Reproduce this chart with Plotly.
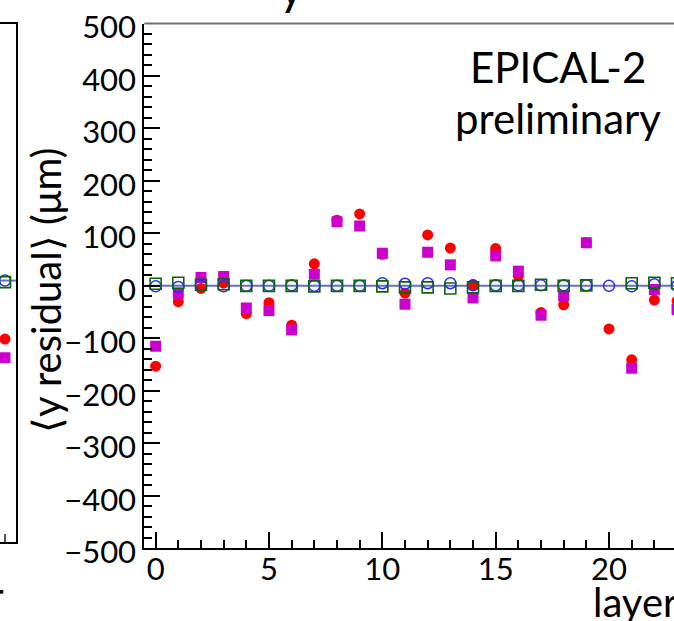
import plotly.graph_objects as go

W, H = 674, 621

# ---------------- data ----------------
layers = list(range(24))

# filled red circles
red_vals = [-153, -30, -5, 5, -53, -32, -75, 42, 125, 137, 60, -14,
            97, 72, 2, 71, 19, -51, -36, 82, -82, -141, -27, -29]
# filled magenta squares
mag_vals = [-115, -14, 16, 18, -42, -47, -84, 22, 122, 114, 62, -35,
            64, 40, -23, 57, 28, -56, -19, 82, None, -157, -7, -45]
# open blue circles
blue_vals = [-1, -2, 0, -1, 0, 0, 1, 0, 0, 0, 5, 4,
             5, 5, 1, 1, 1, 1, 1, 1, 0, -1, 3, 0]
# open green squares
green_vals = [4, 6, 2, 3, 0, 0, 0, -1, 0, 0, -1, -3,
              -3, -5, -3, 0, 0, 2, 0, 1, None, 5, 6, 5]

# neighbouring (left) panel, only its last layer is visible
left_layers = [23]
left_red = [-113]
left_mag = [-149]
left_blue = [0]
left_green = [-3]

y_ticks = [-500, -400, -300, -200, -100, 0, 100, 200, 300, 400, 500]
x_ticks = [0, 5, 10, 15, 20]

FONT = "Lato"

fig = go.Figure()

def add_series(xa, ya, xs, r, m, b, g):
    fig.add_trace(go.Scatter(x=xs, y=r, mode="markers", xaxis=xa, yaxis=ya,
                             marker=dict(symbol="circle", size=11, color="#ff0000",
                                         line=dict(width=0)), showlegend=False))
    fig.add_trace(go.Scatter(x=xs, y=m, mode="markers", xaxis=xa, yaxis=ya,
                             marker=dict(symbol="square", size=11, color="#cc00cc",
                                         line=dict(width=0)), showlegend=False))
    fig.add_trace(go.Scatter(x=xs, y=b, mode="markers", xaxis=xa, yaxis=ya,
                             marker=dict(symbol="circle-open", size=11, color="#2a2aff",
                                         line=dict(width=1.5)), showlegend=False))
    fig.add_trace(go.Scatter(x=xs, y=g, mode="markers", xaxis=xa, yaxis=ya,
                             marker=dict(symbol="square-open", size=11, color="#0b650b",
                                         line=dict(width=1.6)), showlegend=False))

add_series("x", "y", layers, red_vals, mag_vals, blue_vals, green_vals)
add_series("x2", "y2", left_layers, left_red, left_mag, left_blue, left_green)

x0_px = 144.3
spacing = 22.67
x_right = -0.5 + (W - x0_px) / spacing

common_tick = dict(ticks="inside", ticklen=16, tickwidth=1.5, tickcolor="black",
                   showgrid=False, zeroline=False, showline=True,
                   linecolor="black", linewidth=2, automargin=False)

fig.update_layout(
    width=W, height=H,
    margin=dict(l=0, r=0, t=0, b=0, pad=0, autoexpand=False),
    paper_bgcolor="white", plot_bgcolor="white",
    font=dict(family=FONT, color="black"),
    xaxis=dict(domain=[x0_px / W, 1], range=[-0.5, x_right], anchor="y",
               tickmode="array", tickvals=x_ticks, ticklabelstandoff=-7,
               minor=dict(dtick=1, tick0=0, ticks="inside", ticklen=8,
                          tickwidth=1.5, tickcolor="black"),
               tickfont=dict(family=FONT, size=31, color="black"),
               **common_tick),
    yaxis=dict(domain=[1 - 548.2 / H, 1 - 23.5 / H], range=[-500, 500], anchor="x",
               tickmode="array", tickvals=y_ticks, ticklabelshift=4,
               minor=dict(dtick=20, tick0=0, ticks="inside", ticklen=8,
                          tickwidth=1.5, tickcolor="black"),
               tickfont=dict(family=FONT, size=31, color="black"),
               **common_tick),
    xaxis2=dict(domain=[0, 16 / W], range=[23.5 - 16 / 22.0, 23.5], anchor="y2",
                showticklabels=False, ticks="", showgrid=False, zeroline=False,
                showline=True, linecolor="black", linewidth=2, mirror=True,
                tickmode="array", tickvals=[], automargin=False,
                minor=dict(dtick=1, tick0=0, ticks="inside", ticklen=8,
                           tickwidth=1.5, tickcolor="#555555")),
    yaxis2=dict(domain=[1 - 541.7 / H, 1 - 23.6 / H], range=[-504, 496], anchor="x2",
                side="right", showticklabels=False, ticks="", showgrid=False,
                zeroline=False, showline=True, linecolor="black", linewidth=1.5,
                automargin=False),
)

# top frame line and zero reference lines
fig.add_shape(type="line", xref="x domain", yref="y domain", x0=0, x1=1, y0=1, y1=1,
              line=dict(color="#707070", width=2))
fig.add_shape(type="line", xref="x domain", yref="y", x0=0, x1=1, y0=0, y1=0,
              line=dict(color="#6a6ad8", width=2), layer="below")
fig.add_shape(type="line", xref="x2 domain", yref="y2", x0=0, x1=1, y0=0, y1=0,
              line=dict(color="#6a6ad8", width=2), layer="below")

ann = [
    dict(text="EPICAL-2", x=558 / W, y=1 - 67 / H, size=42),
    dict(text="preliminary", x=558 / W, y=1 - 118 / H, size=42),
]
for a in ann:
    fig.add_annotation(text=a["text"], x=a["x"], y=a["y"], xref="paper", yref="paper",
                       xanchor="center", yanchor="middle", showarrow=False,
                       font=dict(family=FONT, size=a["size"], color="black"))

fig.add_annotation(text="⟨y residual⟩ (μm)", x=46 / W, y=1 - 291 / H,
                   xref="paper", yref="paper", textangle=-90, showarrow=False,
                   xanchor="center", yanchor="middle",
                   font=dict(family=FONT, size=40, color="black"))
fig.add_annotation(text="layer", x=680 / W, y=1 - 602 / H, xref="paper", yref="paper",
                   xanchor="right", yanchor="middle", showarrow=False,
                   font=dict(family=FONT, size=40, color="black"))
fig.add_annotation(text="layer", x=6 / W, y=1 - 596 / H, xref="paper", yref="paper",
                   xanchor="right", yanchor="middle", showarrow=False,
                   font=dict(family=FONT, size=40, color="black"))
fig.add_annotation(text="y", x=291 / W, y=1 + 13.5 / H, xref="paper", yref="paper",
                   xanchor="center", yanchor="middle", showarrow=False,
                   font=dict(family=FONT, size=48, color="black"))

fig.write_html("out.html")
